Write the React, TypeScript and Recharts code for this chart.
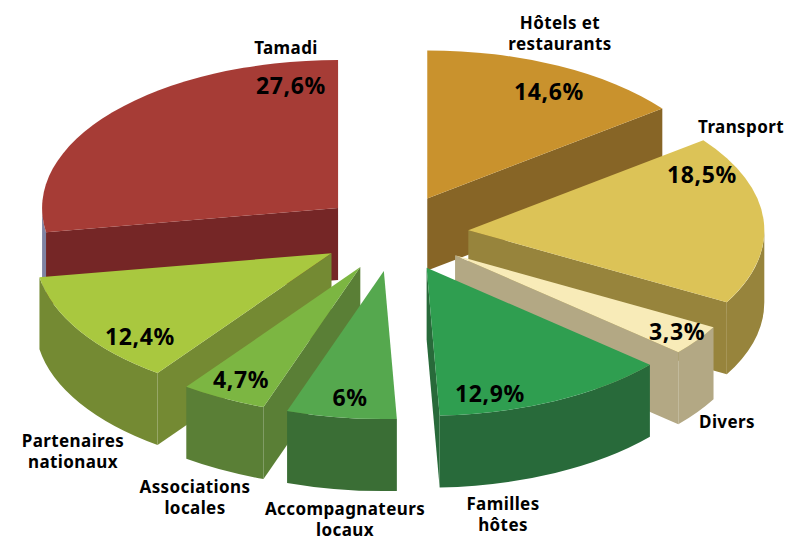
import { Pie, PieChart } from 'recharts'

const categories = ['Hôtels et restaurants', 'Transport', 'Divers', 'Familles hôtes', 'Accompagnateurs locaux', 'Associations locales', 'Partenaires nationaux', 'Tamadi']
const shares = [14.6, 18.5, 3.3, 12.9, 6, 4.7, 12.4, 27.6]
const shareLabels = ['14,6%', '18,5%', '3,3%', '12,9%', '6%', '4,7%', '12,4%', '27,6%']
const nameLines = [['Hôtels et', 'restaurants'], ['Transport'], ['Divers'], ['Familles', 'hôtes'], ['Accompagnateurs', 'locaux'], ['Associations', 'locales'], ['Partenaires', 'nationaux'], ['Tamadi']]

const topColors = ['#C9922D', '#DCC357', '#F8EBB8', '#2F9E50', '#55A84E', '#7CB642', '#A9C83F', '#A63C36']
const sideColors = ['#876526', '#97843C', '#B3A884', '#286A3A', '#3A6E35', '#5A7F36', '#748A33', '#752626']
const rimColors = ['#876526', '#97843C', '#B3A884', '#286A3A', '#3A6E35', '#5A7F36', '#748A33', '#7F83A3']

// back to front
const paintOrder = [7, 0, 1, 2, 6, 5, 4, 3]

const sharePositions = [[549, 91], [702, 174], [677, 331], [490, 393], [350, 397], [241, 379], [140, 336], [291, 85]]
const namePositions = [[560, 22], [741, 126], [727, 421], [503, 503], [345, 508], [195, 486], [73, 440], [286, 47]]

const data = categories.map((name, i) => ({ name, value: shares[i] }))

const WIDTH = 787
const HEIGHT = 537
const CX = 394.5
const CY = 233
const RADIUS = 296
const TILT = 0.5
const DEPTH = 72
const EXPLODE = 74
const EXPLODE_TILT = 0.52
const FONT = '"Noto Sans", sans-serif'

// clockwise from the top, in degrees
const toClock = (angle: number) => 90 - angle
const rad = (deg: number) => (deg * Math.PI) / 180

function Slice3D(props: any) {
  const { cx, cy, outerRadius, startAngle, endAngle, index } = props
  const a0 = toClock(startAngle)
  const a1 = toClock(endAngle)
  const mid = rad((a0 + a1) / 2)
  const ax = cx + EXPLODE * Math.sin(mid)
  const ay = cy - EXPLODE * EXPLODE_TILT * Math.cos(mid)
  const rx = outerRadius
  const ry = outerRadius * TILT
  const at = (deg: number) => [ax + rx * Math.sin(rad(deg)), ay - ry * Math.cos(rad(deg))]

  const [sx, sy] = at(a0)
  const [ex, ey] = at(a1)
  const large = a1 - a0 > 180 ? 1 : 0
  const top = `M${ax},${ay} L${sx},${sy} A${rx},${ry} 0 ${large} 1 ${ex},${ey} Z`

  const wall = (x: number, y: number) =>
    `M${ax},${ay} L${x},${y} L${x},${y + DEPTH} L${ax},${ay + DEPTH} Z`

  const rimFrom = Math.max(a0, 90)
  const rimTo = Math.min(a1, 270)
  let rim = null
  if (rimTo > rimFrom) {
    const [x0, y0] = at(rimFrom)
    const [x1, y1] = at(rimTo)
    rim = `M${x0},${y0} A${rx},${ry} 0 0 1 ${x1},${y1} L${x1},${y1 + DEPTH} A${rx},${ry} 0 0 0 ${x0},${y0 + DEPTH} Z`
  }
  const side = sideColors[index]
  const startFront = Math.sin(rad(a0)) < -0.001
  const endFront = Math.sin(rad(a1)) > 0.001

  return (
    <g>
      {startFront && <path d={wall(sx, sy)} fill={side} />}
      {endFront && <path d={wall(ex, ey)} fill={side} />}
      {rim && <path d={rim} fill={rimColors[index]} />}
      <path d={top} fill={topColors[index]} />
    </g>
  )
}

function Labels(props: any) {
  const { index } = props
  const [px, py] = sharePositions[index]
  const [nx, ny] = namePositions[index]
  return (
    <g>
      <text x={px} y={py} textAnchor="middle" dominantBaseline="central" fontFamily={FONT} fontWeight={700} fontSize={23} letterSpacing={0.6} fill="#000">
        {shareLabels[index]}
      </text>
      {nameLines[index].map((line, i) => (
        <text key={line} x={nx} y={ny + i * 21} textAnchor="middle" dominantBaseline="central" fontFamily={FONT} fontWeight={700} fontSize={17} letterSpacing={0.4} fill="#000">
          {line}
        </text>
      ))}
    </g>
  )
}

export default function App() {
  return (
    <div style={{ position: 'absolute', left: 0, top: 0, width: WIDTH, height: HEIGHT, background: '#fff' }}>
      <PieChart width={WIDTH} height={HEIGHT} margin={{ top: 0, right: 0, bottom: 0, left: 0 }}>
        {paintOrder.map((slice) => {
          const draw = (props: any) => (props.index === slice ? <Slice3D {...props} /> : <g />)
          return (
            <Pie
              key={slice}
              data={data}
              dataKey="value"
              cx={CX}
              cy={CY}
              outerRadius={RADIUS}
              startAngle={90}
              endAngle={-270}
              stroke="none"
              shape={draw}
              inactiveShape={draw}
              isAnimationActive={false}
            />
          )
        })}
        <Pie
          data={data}
          dataKey="value"
          cx={CX}
          cy={CY}
          outerRadius={RADIUS}
          startAngle={90}
          endAngle={-270}
          stroke="none"
          shape={() => <g />}
          inactiveShape={() => <g />}
          label={Labels}
          labelLine={false}
          isAnimationActive={false}
        />
      </PieChart>
    </div>
  )
}
